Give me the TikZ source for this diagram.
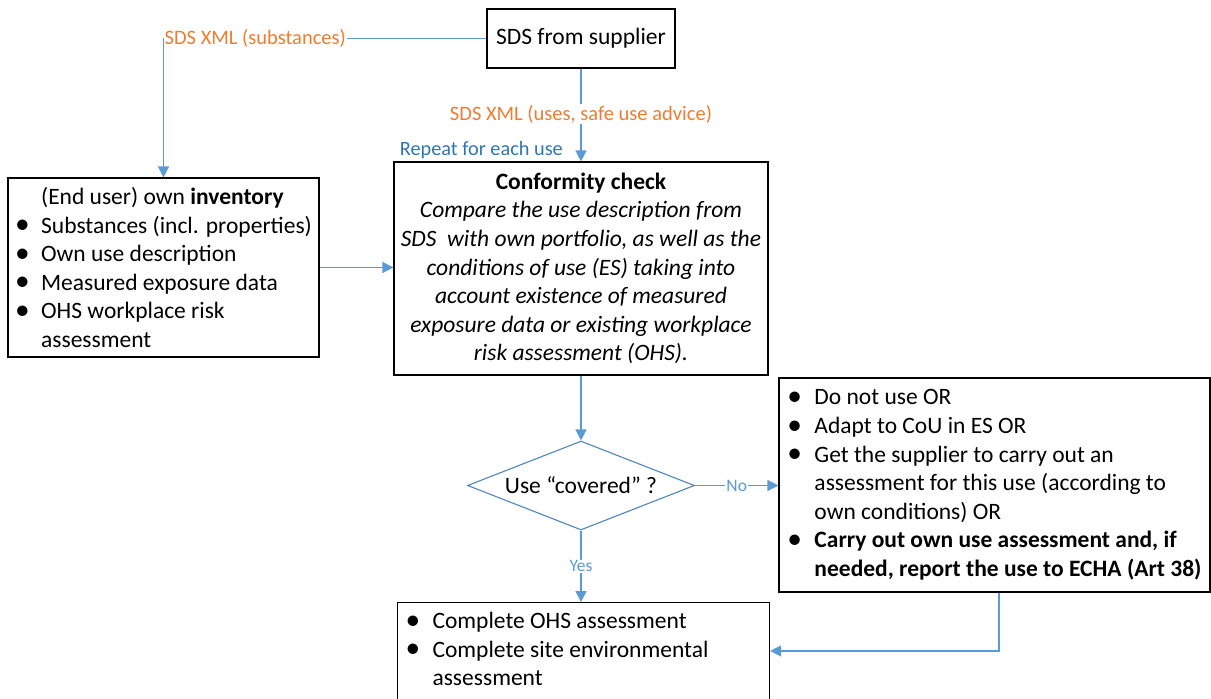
\documentclass[tikz,border=0pt]{standalone}
\usepackage{fontspec}
\setmainfont{Carlito}
\usetikzlibrary{arrows.meta,shapes.geometric,calc}

\definecolor{linkblue}{HTML}{5B9BD5}
\definecolor{labelorange}{HTML}{ED7D31}
\definecolor{noteblue}{HTML}{2E75B6}
\definecolor{diamondblue}{HTML}{4F86C0}

% bullet set in a box of given width, and a matching hanging indent
\newcommand\bul[1]{\makebox[#1][l]{\raisebox{-0.5pt}{\scalebox{1.25}{\textbullet}}}}
\newcommand\ind[1]{\hspace*{#1}}

\begin{document}
\begin{tikzpicture}[x=1pt,y=-1pt,
  box/.style={draw=black, line width=1.1pt, fill=white, inner sep=0pt,
    font=\fontsize{23.5pt}{28.6pt}\selectfont},
  flow/.style={draw=linkblue, line width=1.4pt, -{Triangle[length=11pt,width=11pt]}},
  xmltag/.style={text=labelorange, fill=white, inner sep=1pt,
    font=\fontsize{20.5pt}{24pt}\selectfont},
  yesno/.style={text=linkblue, fill=white, inner sep=1pt,
    font=\fontsize{17.5pt}{20pt}\selectfont},
]
\useasboundingbox (0,0) rectangle (1211,699);
\clip (0,0) rectangle (1211,699);

% boxes
\node[box, minimum width=188pt, minimum height=59pt] (sds) at (581,38.5) {SDS from supplier};

\node[box, minimum width=311pt, minimum height=179pt, align=left] (inv) at (163.5,267.5)
  {\ind{26pt}(End user) own \textbf{inventory}\\
   \bul{26pt}Substances (incl. properties)\\
   \bul{26pt}Own use description\\
   \bul{26pt}Measured exposure data\\
   \bul{26pt}OHS workplace risk\\
   \ind{26pt}assessment};

\node[box, minimum width=374pt, minimum height=213pt, align=center] (conf) at (581,268.5)
  {\textbf{Conformity check}\\
   \textit{Compare the use description from}\\
   \textit{SDS~ with own portfolio, as well as the}\\
   \textit{conditions of use (ES) taking into}\\
   \textit{account existence of measured}\\
   \textit{exposure data or existing workplace}\\
   \textit{risk assessment (OHS).}};

\node[diamond, draw=diamondblue, line width=1.1pt, fill=white, inner sep=0pt,
  minimum width=227pt, minimum height=89pt,
  font=\fontsize{23.5pt}{28.6pt}\selectfont] (dia) at (581,485.5)
  {\makebox[0pt]{Use “covered” ?}};

\node[box, minimum width=431pt, minimum height=214pt, align=left] (act) at (994.5,485)
  {\bul{27pt}Do not use OR\\
   \bul{27pt}Adapt to CoU in ES OR\\
   \bul{27pt}Get the supplier to carry out an\\
   \ind{27pt}assessment for this use (according to\\
   \ind{27pt}own conditions) OR\\
   \bul{27pt}\textbf{Carry out own use assessment and, if}\\
   \ind{27pt}\textbf{needed, report the use to ECHA (Art 38)}};

\node[box, anchor=north west] (final) at (397,602)
  {\parbox[c][120pt][t]{372pt}{\raggedright\leftskip=8pt
   \rule{0pt}{26pt}\bul{27pt}Complete OHS assessment\\
   \bul{27pt}Complete site environmental\\
   \ind{27pt}assessment}};

% connectors
\draw[flow] (sds.west) -| (inv.north);
\node[xmltag, anchor=west] (xmlsub) at (inv.north |- sds.west) {SDS XML (substances)};

\draw[flow] (sds.south) -- node[xmltag, pos=0.49] (xmluse) {SDS XML (uses, safe use advice)} (conf.north);
\node[text=noteblue, anchor=east, inner sep=0pt,
  font=\fontsize{20.3pt}{24pt}\selectfont] (repeat) at (563,150) {Repeat for each use};

\draw[flow] (inv.east) -- (inv.east -| conf.west);
\draw[flow] (conf.south) -- (dia.north);
\draw[flow] (dia.east) -- node[yesno] (no) {No} (dia.east -| act.west);
\draw[flow] (dia.south) -- node[yesno, pos=0.5] (yes) {Yes} (dia.south |- final.north);
\draw[flow] ([xshift=4.5pt]act.south) |- ($(final.north east)+(0,49)$);
\end{tikzpicture}
\end{document}
